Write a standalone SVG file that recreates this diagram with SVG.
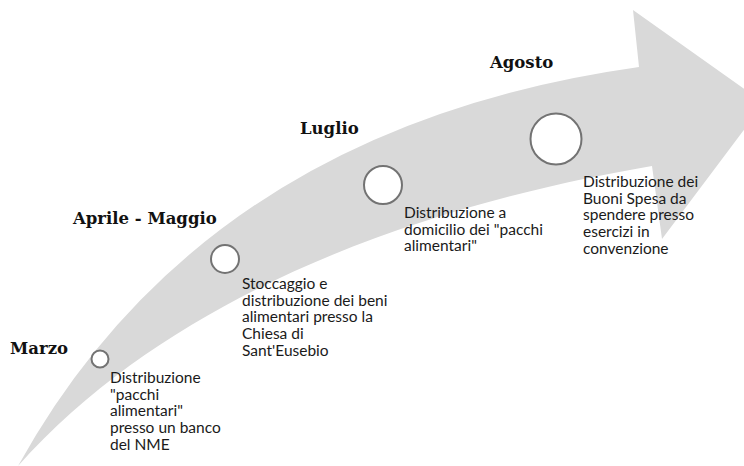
<svg xmlns="http://www.w3.org/2000/svg" width="744" height="466" viewBox="0 0 744 466">
<style>
.arrow{fill:#d9d9d9;stroke:none}
.dot{fill:#ffffff;stroke:#737373;stroke-width:2}
.month{font-family:"DejaVu Serif",serif;font-weight:bold;font-size:16.5px;fill:#111}
.desc{font-family:Lato,"Liberation Sans",sans-serif;font-size:15.5px;fill:#1a1a1a}
</style>
<rect width="744" height="466" fill="#ffffff"/>
<g id="connectors">
<path class="arrow" d="M18,466 Q205,128 639,67 L633,10 L764,103 L662,239 L652,166 C500,192 200,262 18,466 Z"/>
</g>
<g id="marzo">
<circle class="dot" cx="100" cy="359" r="8.5"/>
<text class="month" x="10" y="354">Marzo</text>
<text class="desc" x="110" y="383">Distribuzione</text>
<text class="desc" x="110" y="399.7">"pacchi</text>
<text class="desc" x="110" y="416.4">alimentari"</text>
<text class="desc" x="110" y="433.1">presso un banco</text>
<text class="desc" x="110" y="449.8">del NME</text>
</g>
<g id="aprile-maggio">
<circle class="dot" cx="225" cy="259" r="14"/>
<text class="month" x="73" y="224">Aprile - Maggio</text>
<text class="desc" x="242" y="289">Stoccaggio e</text>
<text class="desc" x="242" y="305.7">distribuzione dei beni</text>
<text class="desc" x="242" y="322.4">alimentari presso la</text>
<text class="desc" x="242" y="339.1">Chiesa di</text>
<text class="desc" x="242" y="355.8">Sant'Eusebio</text>
</g>
<g id="luglio">
<circle class="dot" cx="383" cy="185" r="19"/>
<text class="month" x="300" y="134">Luglio</text>
<text class="desc" x="404" y="218">Distribuzione a</text>
<text class="desc" x="404" y="234.7">domicilio dei "pacchi</text>
<text class="desc" x="404" y="251.4">alimentari"</text>
</g>
<g id="agosto">
<circle class="dot" cx="556" cy="139" r="25.5"/>
<text class="month" x="490" y="68">Agosto</text>
<text class="desc" x="583" y="187">Distribuzione dei</text>
<text class="desc" x="583" y="203.7">Buoni Spesa da</text>
<text class="desc" x="583" y="220.4">spendere presso</text>
<text class="desc" x="583" y="237.1">esercizi in</text>
<text class="desc" x="583" y="253.8">convenzione</text>
</g>
</svg>
